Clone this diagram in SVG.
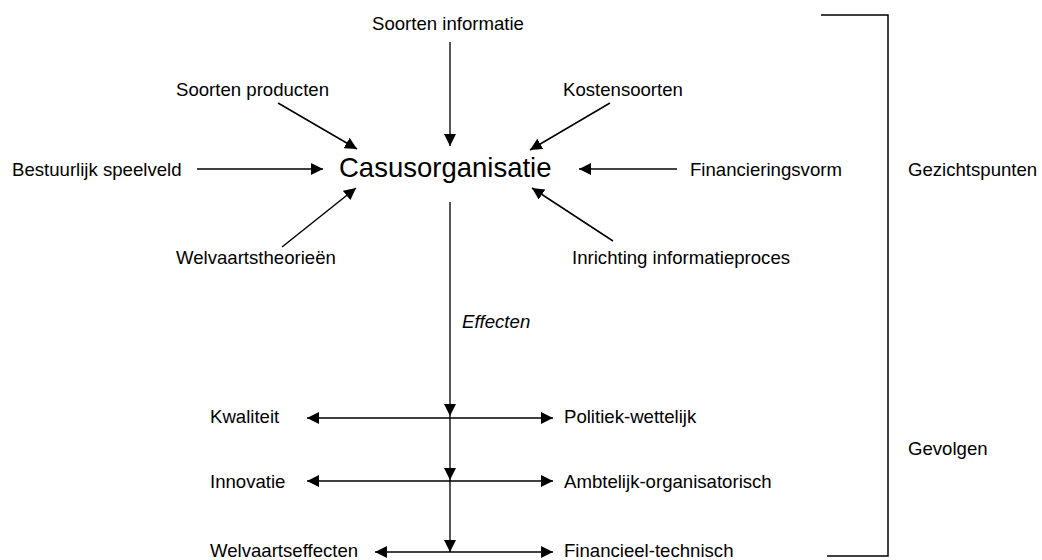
<svg xmlns="http://www.w3.org/2000/svg" width="1042" height="560" viewBox="0 0 1042 560">
<style>
text{font-family:"Liberation Sans",Arial,sans-serif;font-size:18.6px;fill:#000}
.big{font-size:27.5px}
.it{font-style:italic}
.ln{stroke:#000;stroke-width:1.5;fill:none}
.gr{stroke:#444;stroke-width:1.8;fill:none}
.br{stroke:#000;stroke-width:1.5;fill:none}
</style>
<defs>
<marker id="ah" markerUnits="userSpaceOnUse" markerWidth="13" markerHeight="12" refX="12" refY="6" orient="auto-start-reverse">
<path d="M0,0 L12,6 L0,12 z" fill="#000"/>
</marker>
</defs>
<rect width="1042" height="560" fill="#fff"/>
<g id="n-center"><text class="big" x="339" y="177">Casusorganisatie</text></g>
<g id="n-info"><text x="372" y="30">Soorten informatie</text></g>
<g id="n-prod"><text x="176" y="96">Soorten producten</text></g>
<g id="n-kosten"><text x="563" y="96">Kostensoorten</text></g>
<g id="n-bestuur"><text x="12" y="176">Bestuurlijk speelveld</text></g>
<g id="n-fin"><text x="690" y="176">Financieringsvorm</text></g>
<g id="n-welv"><text x="176" y="264">Welvaartstheorieën</text></g>
<g id="n-inr"><text x="572" y="264">Inrichting informatieproces</text></g>
<g id="n-gez"><text x="908" y="176">Gezichtspunten</text></g>
<g id="n-gev"><text x="908" y="455">Gevolgen</text></g>
<g id="n-eff"><text class="it" x="462" y="328">Effecten</text></g>
<g id="n-kwal"><text x="210" y="423">Kwaliteit</text></g>
<g id="n-pol"><text x="564" y="423">Politiek-wettelijk</text></g>
<g id="n-inno"><text x="210" y="488">Innovatie</text></g>
<g id="n-amb"><text x="564" y="488">Ambtelijk-organisatorisch</text></g>
<g id="n-weff"><text x="210" y="557">Welvaartseffecten</text></g>
<g id="n-fint"><text x="564" y="557">Financieel-technisch</text></g>
<g id="connectors">
<line class="gr" x1="450" y1="42" x2="450" y2="146" marker-end="url(#ah)"/>
<line class="ln" x1="278" y1="103" x2="357" y2="149" marker-end="url(#ah)"/>
<line class="ln" x1="197" y1="169" x2="323" y2="169" marker-end="url(#ah)"/>
<line class="ln" x1="282" y1="247" x2="356" y2="188" marker-end="url(#ah)"/>
<line class="ln" x1="610" y1="103" x2="530" y2="150" marker-end="url(#ah)"/>
<line class="gr" x1="677" y1="169" x2="579" y2="169" marker-end="url(#ah)"/>
<line class="ln" x1="613" y1="241" x2="532" y2="188" marker-end="url(#ah)"/>
<line class="gr" x1="450" y1="202" x2="450" y2="416" marker-end="url(#ah)"/>
<line class="gr" x1="450" y1="416" x2="450" y2="480" marker-end="url(#ah)"/>
<line class="gr" x1="450" y1="480" x2="450" y2="552" marker-end="url(#ah)"/>
<line class="ln" x1="307" y1="418" x2="553" y2="418" marker-start="url(#ah)" marker-end="url(#ah)"/>
<line class="ln" x1="307" y1="481" x2="553" y2="481" marker-start="url(#ah)" marker-end="url(#ah)"/>
<line class="ln" x1="375" y1="552" x2="553" y2="552" marker-start="url(#ah)" marker-end="url(#ah)"/>
<polyline class="br" points="821,15 888,15 888,556 827,556"/>
</g>
</svg>
